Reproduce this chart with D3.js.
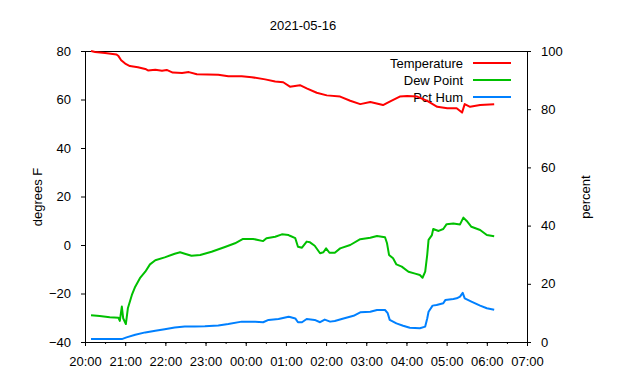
<!DOCTYPE html>
<html>
<head>
<meta charset="utf-8">
<script src="https://cdn.jsdelivr.net/npm/d3@7"></script>
<style>
  body { margin: 0; background: #fff; }
  text { font-family: "Liberation Sans", Arial, sans-serif; font-size: 13px; fill: #000; }
</style>
</head>
<body>
<div id="chart"></div>
<script>
// readings, clock time -> value
var tempTimes = ["20:09","20:15","20:30","20:47","20:50","20:54","21:00","21:07","21:19","21:30","21:34","21:45","21:55","22:02","22:11","22:25","22:35","22:47","23:19","23:34","23:54","00:09","00:29","00:44","00:56","01:06","01:21","01:31","01:46","02:01","02:21","02:36","02:51","03:06","03:25","03:35","03:50","04:01","04:16","04:31","04:46","05:01","05:15","05:23","05:27","05:35","05:50","06:11"];
var tempValues = [80.0,79.6,79.2,78.6,77.9,76.2,74.8,73.8,73.3,72.6,72.0,72.3,71.9,72.2,71.1,70.9,71.3,70.4,70.2,69.6,69.6,69.2,68.3,67.4,67.1,65.3,65.9,64.6,62.8,61.7,61.2,59.5,58.1,59.0,57.7,59.1,61.2,61.4,61.2,59.4,57.0,56.4,56.4,54.6,58.1,57.0,57.7,58.0];

var dewTimes = ["20:09","20:22","20:37","20:50","20:52","20:55","20:57","21:01","21:04","21:10","21:15","21:22","21:30","21:37","21:45","21:59","22:14","22:22","22:29","22:39","22:52","23:09","23:29","23:44","23:56","00:11","00:26","00:31","00:44","00:54","01:04","01:06","01:14","01:18","01:24","01:31","01:36","01:43","01:51","01:56","02:00","02:05","02:13","02:21","02:36","02:51","03:06","03:16","03:28","03:31","03:34","03:40","03:45","03:53","04:03","04:13","04:20","04:24","04:28","04:31","04:33","04:38","04:40","04:48","04:55","05:00","05:10","05:20","05:25","05:30","05:37","05:50","06:00","06:11"];
var dewValues = [-29.0,-29.3,-29.8,-30.0,-31.3,-25.4,-30.2,-32.6,-26.1,-20.6,-17.2,-13.7,-11.0,-8.0,-6.3,-5.1,-3.6,-3.0,-3.6,-4.4,-4.1,-2.8,-0.8,0.7,2.5,2.5,1.6,2.8,3.4,4.4,4.1,3.8,2.8,-0.7,-1.1,1.4,1.1,-0.3,-3.4,-3.0,-1.4,-3.2,-3.2,-1.4,0.0,2.4,3.0,3.7,3.2,0.7,-4.1,-5.5,-8.0,-8.9,-11.0,-11.8,-12.4,-13.5,-11.0,-4.1,2.1,4.1,6.6,5.8,6.6,8.6,8.9,8.5,11.3,9.9,7.5,6.2,4.1,3.6];

var humTimes = ["20:09","20:55","21:02","21:15","21:30","21:45","21:59","22:14","22:29","22:44","22:59","23:19","23:34","23:54","00:14","00:26","00:34","00:49","01:04","01:06","01:14","01:18","01:24","01:31","01:43","01:51","01:58","02:06","02:13","02:26","02:41","02:51","03:06","03:16","03:28","03:32","03:35","03:45","03:55","04:05","04:20","04:28","04:31","04:33","04:39","04:45","04:55","04:58","05:10","05:15","05:20","05:24","05:27","05:37","05:50","06:00","06:11"];
var humValues = [1.0,1.0,1.6,2.5,3.3,3.9,4.4,5.0,5.3,5.3,5.4,5.7,6.2,7.0,7.0,6.8,7.6,7.9,8.7,8.6,8.1,6.8,6.8,7.9,7.6,6.8,7.7,7.0,7.2,8.1,9.0,10.2,10.4,11.0,11.0,9.9,7.6,6.4,5.6,4.9,4.7,5.3,8.1,10.4,12.5,12.7,13.3,14.4,14.8,15.0,15.6,16.9,15.0,13.9,12.5,11.6,11.1];

var yLeftTicks = [-40, -20, 0, 20, 40, 60, 80];
var yRightTicks = [0, 20, 40, 60, 80, 100];
var seriesNames = ["Temperature", "Dew Point", "Pct Hum"];
var seriesColors = ["#ff0000", "#00c000", "#0080ff"];

var svgWidth = 640;
var svgHeight = 380;
var plotLeft = 85, plotRight = 527, plotTop = 51, plotBottom = 342;

function toDate(s) {
    var p = s.split(":");
    var h = +p[0];
    var day = h < 12 ? 17 : 16;
    return new Date(2021, 4, day, h, +p[1]);
}

var svg = d3.select("#chart")
    .append("svg")
    .attr("width", svgWidth)
    .attr("height", svgHeight);

var xScale = d3.scaleTime()
    .domain([new Date(2021, 4, 16, 20, 0), new Date(2021, 4, 17, 7, 0)])
    .range([plotLeft, plotRight]);

var yLeft = d3.scaleLinear().domain([-40, 80]).range([plotBottom, plotTop]);
var yRight = d3.scaleLinear().domain([0, 100]).range([plotBottom, plotTop]);

// minor x ticks
svg.append("g")
    .attr("transform", "translate(0," + plotBottom + ")")
    .call(d3.axisBottom(xScale)
        .ticks(d3.timeMinute.every(30))
        .tickSize(2)
        .tickSizeOuter(0)
        .tickFormat(""))
    .call(function(g) { g.select(".domain").remove(); });

svg.append("g")
    .attr("transform", "translate(0," + plotBottom + ")")
    .call(d3.axisBottom(xScale)
        .ticks(d3.timeHour.every(1))
        .tickFormat(d3.timeFormat("%H:%M"))
        .tickSize(4)
        .tickSizeOuter(0)
        .tickPadding(11))
    .call(function(g) { g.select(".domain").remove(); });

svg.append("g")
    .attr("transform", "translate(" + plotLeft + ",0)")
    .call(d3.axisLeft(yLeft)
        .tickValues(yLeftTicks)
        .tickSize(4)
        .tickSizeOuter(0)
        .tickPadding(10))
    .call(function(g) { g.select(".domain").remove(); });

svg.append("g")
    .attr("transform", "translate(" + plotRight + ",0)")
    .call(d3.axisRight(yRight)
        .tickValues(yRightTicks)
        .tickSize(4)
        .tickSizeOuter(0)
        .tickPadding(10))
    .call(function(g) { g.select(".domain").remove(); });

svg.selectAll(".tick text")
    .attr("font-family", null)
    .attr("font-size", null);

// border
svg.append("rect")
    .attr("x", plotLeft + 0.5)
    .attr("y", plotTop + 0.5)
    .attr("width", plotRight - plotLeft)
    .attr("height", plotBottom - plotTop)
    .attr("fill", "none")
    .attr("stroke", "#000")
    .attr("stroke-width", 1);

svg.append("text")
    .attr("x", 303)
    .attr("y", 30)
    .attr("text-anchor", "middle")
    .text("2021-05-16");

svg.append("text")
    .attr("transform", "translate(37,197)rotate(-90)")
    .attr("text-anchor", "middle")
    .attr("dy", "0.35em")
    .text("degrees F");

svg.append("text")
    .attr("transform", "translate(585,197)rotate(-90)")
    .attr("text-anchor", "middle")
    .attr("dy", "0.35em")
    .text("percent");

// legend
var legend = svg.append("g");
seriesNames.forEach(function(name, i) {
    var ly = 63 + i * 17;
    legend.append("text")
        .attr("x", 463)
        .attr("y", ly)
        .attr("dy", "0.35em")
        .attr("text-anchor", "end")
        .text(name);
    legend.append("line")
        .attr("x1", 473)
        .attr("x2", 511)
        .attr("y1", ly)
        .attr("y2", ly)
        .attr("stroke", seriesColors[i])
        .attr("stroke-width", 2);
});

function drawSeries(times, values, yScale, color) {
    var pts = times.map(function(t, i) { return [toDate(t), values[i]]; });
    var line = d3.line()
        .x(function(d) { return xScale(d[0]); })
        .y(function(d) { return yScale(d[1]); });
    svg.append("path")
        .datum(pts)
        .attr("d", line)
        .attr("fill", "none")
        .attr("stroke", color)
        .attr("stroke-width", 2)
        .attr("stroke-linejoin", "round");
}

drawSeries(tempTimes, tempValues, yLeft, seriesColors[0]);
drawSeries(dewTimes, dewValues, yLeft, seriesColors[1]);
drawSeries(humTimes, humValues, yRight, seriesColors[2]);
</script>
</body>
</html>
